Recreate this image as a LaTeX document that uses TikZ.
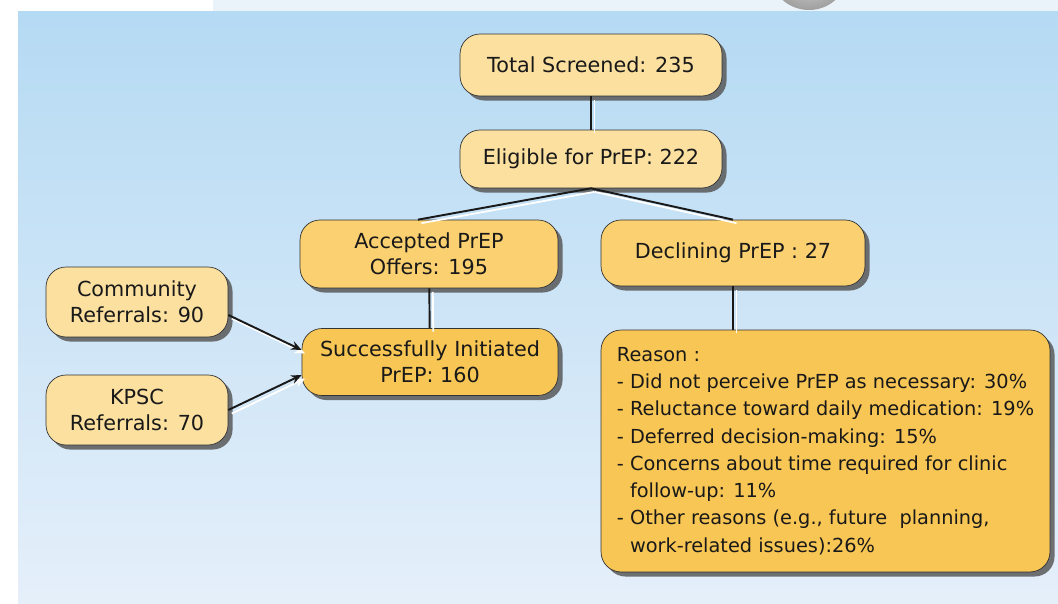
\documentclass[tikz,border=0pt]{standalone}
\usepackage{fontspec}
\setmainfont{DejaVu Sans}
\usepackage{tikz}
\usetikzlibrary{shapes}
\usetikzlibrary{arrows.meta}
\usetikzlibrary{shadows}
\usetikzlibrary{calc}
\definecolor{boxlight}{RGB}{251,224,160}
\definecolor{boxmid}{RGB}{250,208,112}
\definecolor{boxdark}{RGB}{248,198,84}
\definecolor{skytop}{RGB}{181,218,243}
\definecolor{skybot}{RGB}{229,239,250}
\definecolor{bande}{RGB}{234,242,250}
\tikzstyle{etape}=[
        rectangle,
        draw=black!80,
        rounded corners=0.4cm,
        align=center,
        text=black!90,
        font=\fontsize{11.8}{14.7}\selectfont,
        drop shadow={shadow xshift=2.6pt,shadow yshift=-2.6pt,fill=black!65,opacity=0.85}
]
\tikzstyle{clair}=[etape,fill=boxlight]
\tikzstyle{moyen}=[etape,fill=boxmid]
\tikzstyle{fonce}=[etape,fill=boxdark]
\tikzstyle{lien}=[line width=1.1pt,draw=black!90,
        preaction={draw=white,line width=1pt,transform canvas={shift={(2pt,-2pt)}}}]
\tikzstyle{fleche}=[lien,-{Stealth[length=6pt,width=5pt]}]

\begin{document}
\begin{tikzpicture}[x=0.02cm,y=-0.02cm]
\useasboundingbox (0,0) rectangle (1058,604);
\fill[white] (0,0) rectangle (1058,604);
\fill[bande] (213,0) rectangle (1058,12);
\begin{scope}
\clip (213,0) rectangle (1058,12);
\shade[inner color=gray!25,outer color=gray!75] (809,-28) ellipse (39 and 38);
\end{scope}
\shade[top color=skytop,bottom color=skybot] (18,12) rectangle (1058,604);
\node[clair,minimum width=5.24cm,minimum height=1.24cm] (total) at (591,65) {Total Screened: 235};
\node[clair,minimum width=5.24cm,minimum height=1.16cm] (elig) at (591,159) {Eligible for PrEP: 222};
\node[moyen,minimum width=5.16cm,minimum height=1.36cm] (accept) at (429,254) {Accepted PrEP\\Offers: 195};
\node[moyen,minimum width=5.28cm,minimum height=1.32cm] (decl) at (733,253) {Declining PrEP : 27};
\node[clair,minimum width=3.64cm,minimum height=1.4cm] (comm) at (137,302) {Community\\Referrals: 90};
\node[clair,minimum width=3.64cm,minimum height=1.4cm] (kpsc) at (137,410) {KPSC\\Referrals: 70};
\node[fonce,minimum width=5.12cm,minimum height=1.34cm] (succ) at (430,362) {Successfully Initiated\\PrEP: 160};
\node[fonce,minimum width=8.98cm,minimum height=4.84cm,align=left,
      font=\fontsize{11}{15.5}\selectfont] (raison) at (825.5,451) {Reason :\\
- Did not perceive PrEP as necessary: 30\%\\
- Reluctance toward daily medication: 19\%\\
- Deferred decision-making: 15\%\\
- Concerns about time required for clinic\\
\hphantom{- }follow-up: 11\%\\
- Other reasons (e.g., future\ \ planning,\\
\hphantom{- }work-related issues):26\%};
%Liaisons
\draw[lien] (total) -- (elig);
\draw[lien] (elig.south) -- ([xshift=-0.22cm]accept.north);
\draw[lien] (elig.south) -- (decl.north);
\draw[lien] (accept) -- (succ);
\draw[lien] (decl.south) -- (decl.south |- raison.north);
\draw[fleche] ([yshift=-0.26cm]comm.east) -- ([yshift=0.24cm]succ.west);
\draw[fleche] (kpsc.east) -- ([yshift=-0.26cm]succ.west);
\end{tikzpicture}
\end{document}
